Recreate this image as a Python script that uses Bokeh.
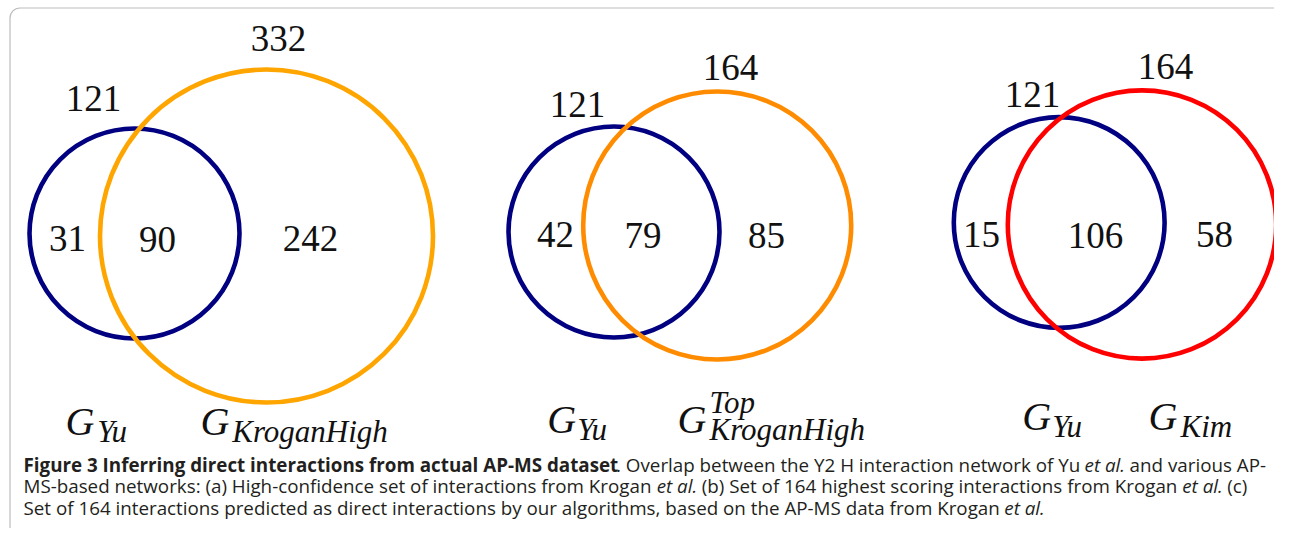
from bokeh.plotting import figure
from bokeh.models import Range1d, BoxAnnotation
from bokeh.core.properties import value
from bokeh.embed import file_html
from bokeh.resources import INLINE

# ---------------- data ----------------
set_a_sizes = [121, 121, 121]          # G_Yu in each panel
set_b_sizes = [332, 164, 164]          # second network in each panel
only_a = [31, 42, 15]
both = [90, 79, 106]
only_b = [242, 85, 58]
label_a = ["Yu", "Yu", "Yu"]
label_b = ["KroganHigh", "KroganHigh", "Kim"]
label_b_sup = ["", "Top", ""]
colors_a = ["#000080", "#000080", "#000080"]
colors_b = ["#FFA500", "#FF8C00", "#FF0000"]

caption_lines = [
    [("Figure 3 Inferring direct interactions from actual AP-MS dataset", "bold"),
     (". Overlap between the Y2 H interaction network of Yu ", "normal"),
     ("et al.", "italic"),
     (" and various AP-", "normal")],
    [("MS-based networks: (a) High-confidence set of interactions from Krogan ", "normal"),
     ("et al.", "italic"),
     (" (b) Set of 164 highest scoring interactions from Krogan ", "normal"),
     ("et al.", "italic"),
     (" (c)", "normal")],
    [("Set of 164 interactions predicted as direct interactions by our algorithms, based on the AP-MS data from Krogan ", "normal"),
     ("et al.", "italic")],
]

# ---------------- layout (screen pixel coordinates) ----------------
W, H = 1274, 528
p = figure(width=W, height=H, output_backend="svg", toolbar_location=None,
           x_range=Range1d(0, W), y_range=Range1d(H, 0),
           min_border=0, outline_line_color=None)
p.axis.visible = False
p.grid.visible = False

frame = BoxAnnotation(left=9.5, right=1289.5, top=7.5, bottom=541, border_radius=10,
                      fill_alpha=0, line_color="#222222", line_width=1.2)
p.add_layout(frame)

circ_a = [(134, 233, 105), (613.5, 231.5, 105.5), (1058.7, 222, 105.4)]
circ_b = [(266, 235.5, 166.5), (716.7, 225, 134), (1141.5, 224, 134.2)]

for i in range(3):
    p.circle(x=[circ_a[i][0]], y=[circ_a[i][1]], radius=circ_a[i][2],
             fill_color=None, line_color=colors_a[i], line_width=4.6)
    p.circle(x=[circ_b[i][0]], y=[circ_b[i][1]], radius=circ_b[i][2],
             fill_color=None, line_color=colors_b[i], line_width=4.6)

BASE_K = 0.35   # baseline correction (fraction of font size)

# number positions (center x, baseline y)
pos_size_a = [(93, 111), (577, 117.3), (1032, 106.7)]
pos_size_b = [(278, 50.7), (730, 80), (1165, 79.3)]
pos_only_a = [(67, 250.7), (555, 247.3), (981, 246.7)]
pos_both = [(157, 251.5), (642.5, 248), (1095, 248)]
pos_only_b = [(310, 250.7), (766, 248), (1214, 246.7)]

NUM_FS = 37
xs, ys, ts = [], [], []
for vals, pos in [(set_a_sizes, pos_size_a), (set_b_sizes, pos_size_b),
                  (only_a, pos_only_a), (both, pos_both), (only_b, pos_only_b)]:
    for v, (x, y) in zip(vals, pos):
        xs.append(x); ys.append(y - BASE_K * NUM_FS); ts.append(str(v))
p.text(x=xs, y=ys, text=ts, text_font=value("Liberation Serif"),
       text_font_size=f"{NUM_FS}px", text_align="center", text_baseline="alphabetic",
       text_color="#111111")

# set labels: G (x, baseline), subscript (x, baseline), superscript
G_a = [(65, 435), (546.7, 433), (1021.7, 430)]
sub_a = [(96.7, 442), (576.7, 440), (1051.7, 437)]
G_b = [(200, 435), (677, 433), (1148, 430)]
sub_b = [(231.7, 442), (709, 440), (1180, 437)]
sup_b = [(0, 0), (709, 413), (0, 0)]

G_FS, S_FS = 40, 31
gx, gy, gt = [], [], []
sx, sy, st = [], [], []
for i in range(3):
    gx += [G_a[i][0], G_b[i][0]]
    gy += [G_a[i][1] - BASE_K * G_FS, G_b[i][1] - BASE_K * G_FS]
    gt += ["G", "G"]
    sx += [sub_a[i][0], sub_b[i][0]]
    sy += [sub_a[i][1] - BASE_K * S_FS, sub_b[i][1] - BASE_K * S_FS]
    st += [label_a[i], label_b[i]]
    if label_b_sup[i]:
        sx.append(sup_b[i][0]); sy.append(sup_b[i][1] - BASE_K * S_FS); st.append(label_b_sup[i])
p.text(x=gx, y=gy, text=gt, text_font=value("Liberation Serif"), text_font_style="italic",
       text_font_size=f"{G_FS}px", text_align="left", text_baseline="alphabetic", text_color="#111111")
p.text(x=sx, y=sy, text=st, text_font=value("Liberation Serif"), text_font_style="italic",
       text_font_size=f"{S_FS}px", text_align="left", text_baseline="alphabetic", text_color="#111111")

# ---------------- caption: approximate Open Sans advance widths (units/2048) ----
REG = dict(zip(" .,:()-0123456789", [532, 545, 500, 545, 606, 606, 659] + [1171] * 10))
REG.update(dict(a=1139, b=1255, c=975, d=1255, e=1149, f=694, g=1122, h=1257, i=518,
                k=1075, l=518, m=1905, n=1257, o=1237, p=1255, r=836, s=977, t=723,
                u=1257, v=1026, w=1593, y=1028, A=1296, H=1511, K=1206, M=1849,
                O=1599, P=1231, S=1073, Y=1087, F=1026))
BOLD = dict(zip(" .-3", [532, 580, 659, 1171]))
BOLD.update(dict(a=1239, c=1022, d=1300, e=1176, f=782, g=1163, i=625, l=625, m=1964,
                 n=1323, o=1251, r=924, s=1001, t=831, u=1323, A=1477, F=1124, I=727,
                 M=1878, P=1300, S=1128))
ITAL = {" ": 532, ".": 520, "e": 1100, "t": 720, "a": 1250, "l": 530}
TABLES = {"normal": REG, "bold": BOLD, "italic": ITAL}
WIDTH_FIX = {"normal": 1.0, "bold": 1.008, "italic": 0.94}

CAP_FS = 18.8
CAP_X0 = 23
CAP_BASE = [471, 492.5, 514]

segs = {"normal": ([], [], []), "bold": ([], [], []), "italic": ([], [], [])}
for line, base in zip(caption_lines, CAP_BASE):
    x = CAP_X0
    for txt, style in line:
        tab = TABLES[style]
        lead = len(txt) - len(txt.lstrip(" "))
        x += lead * REG[" "] / 2048 * CAP_FS
        body = txt.strip(" ")
        sx_, sy_, st_ = segs[style]
        sx_.append(x); sy_.append(base - BASE_K * CAP_FS); st_.append(body)
        x += sum(tab.get(ch, 1100) for ch in body) / 2048 * CAP_FS * WIDTH_FIX[style]
        trail = len(txt) - len(txt.rstrip(" "))
        x += trail * REG[" "] / 2048 * CAP_FS

for style, (cx, cy, ct) in segs.items():
    p.text(x=cx, y=cy, text=ct, text_font=value("Open Sans"), text_font_style=style,
           text_font_size=f"{CAP_FS}px", text_align="left", text_baseline="alphabetic",
           text_color="#231F20")

open("out.html", "w").write(file_html(p, INLINE))
